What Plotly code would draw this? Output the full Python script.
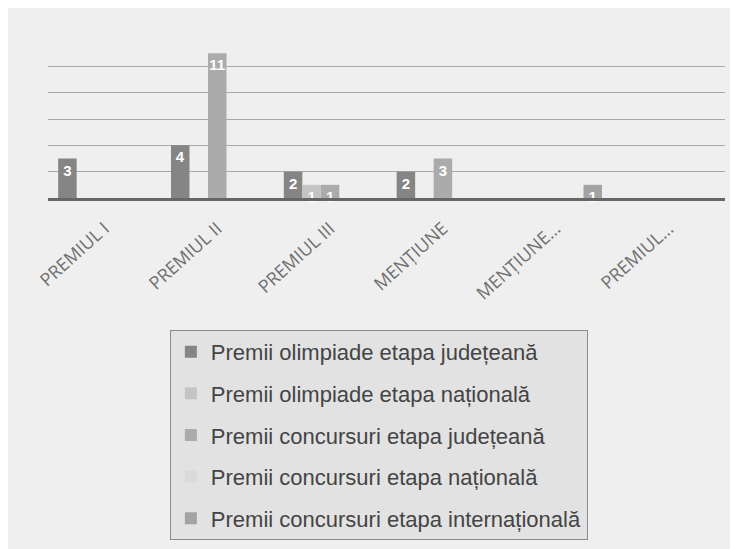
import plotly.graph_objects as go

categories = ["PREMIUL I", "PREMIUL II", "PREMIUL III", "MENȚIUNE", "MENȚIUNE…", "PREMIUL…"]

series_names = [
    "Premii olimpiade etapa județeană",
    "Premii olimpiade etapa națională",
    "Premii concursuri etapa județeană",
    "Premii concursuri etapa națională",
    "Premii concursuri etapa internațională",
]

olimp_judet = [3, 4, 2, 2, 0, 0]
olimp_nat = [0, 0, 1, 0, 0, 0]
conc_judet = [0, 11, 1, 3, 0, 0]
conc_nat = [0, 0, 0, 0, 0, 0]
conc_internat = [0, 0, 0, 0, 1, 0]

series_values = [olimp_judet, olimp_nat, conc_judet, conc_nat, conc_internat]
series_colors = ["#858585", "#c4c4c4", "#ababab", "#dadada", "#a3a3a3"]

fig = go.Figure()
for i, (name, vals, col) in enumerate(zip(series_names, series_values, series_colors)):
    fig.add_trace(go.Bar(
        x=categories, y=vals, name=name,
        marker=dict(color=col, line=dict(width=0)),
        text=[str(v) if v else "" for v in vals],
        textposition="inside", insidetextanchor="end",
        constraintext="none", textangle=0,
        textfont=dict(family="Liberation Sans", size=15, color="white", weight="bold"),
        legendgroup=f"g{i}",
        cliponaxis=False,
    ))

fig.update_layout(
    width=738, height=549,
    barmode="group", bargap=0.18, bargroupgap=0,
    paper_bgcolor="#efefef", plot_bgcolor="#efefef",
    margin=dict(l=40, r=21, t=32, b=359),
    showlegend=True,
    legend=dict(
        x=0.18, y=-0.835, xanchor="left", yanchor="top",
        bgcolor="#e2e2e2", bordercolor="#8a8a8a", borderwidth=1,
        font=dict(family="Liberation Sans", size=22, color="#444444"),
        traceorder="grouped", tracegroupgap=10,
        itemwidth=30,
    ),
    font=dict(family="Liberation Sans"),
)
fig.update_xaxes(
    showline=True, linecolor="#666666", linewidth=3,
    tickangle=-42, ticks="", automargin=False,
    ticklabelstandoff=10,
    tickfont=dict(family="Open Sans", size=18, color="#707070"),
    showgrid=False,
)
fig.update_yaxes(
    range=[0, 12], dtick=2, showticklabels=False,
    showgrid=True, gridcolor="#a8a8a8", gridwidth=1,
    zeroline=False, automargin=False,
)

fig.write_html("out.html")
